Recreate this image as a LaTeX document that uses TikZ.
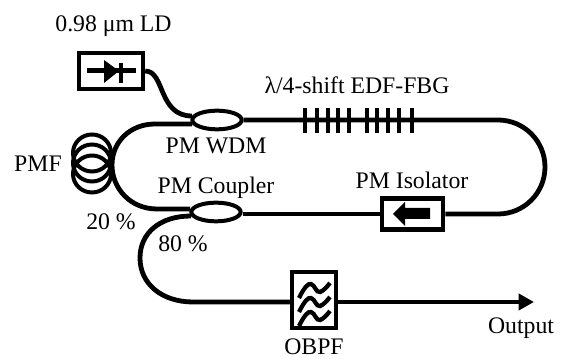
\documentclass[tikz,border=0pt]{standalone}
\usepackage{fontspec}
\setmainfont{Liberation Serif}
\usetikzlibrary{shapes.geometric,arrows.meta}
\tikzset{
  fiber/.style={line width=3.6pt},
  devbox/.style={draw, line width=3.3pt, minimum width=48pt, minimum height=27pt, inner sep=0pt, fill=white},
  couplerbox/.style={draw, ellipse, line width=3pt, minimum width=37pt, minimum height=14pt, inner sep=0pt, fill=white},
  lbl/.style={font=\fontsize{17.8}{20}\selectfont, inner sep=0pt},
  grating/.style={line width=3.4pt},
}
\begin{document}
\begin{tikzpicture}[x=0.75pt, y=-0.75pt]
  \useasboundingbox (0,0) rectangle (562,359);

  % 光纤环 PMF
  \foreach \cy in {153,163,174}
    \draw[line width=3pt] (92,\cy) ellipse [x radius=19, y radius=18.5];

  % 器件
  \node[couplerbox] (wdm) at (217,120) {};
  \node[couplerbox] (coupler) at (216,212) {};
  \node[devbox] (ld) at (111,71) {};
  \node[devbox, minimum width=46pt, minimum height=23pt] (iso) at (412.5,214) {};
  \node[devbox, minimum width=33pt, minimum height=42pt] (obpf) at (314,300) {};

  % 自由端
  \coordinate (wdmin) at (192,116);
  \coordinate (wdmloop) at (192,124);
  \coordinate (cploop) at (190,209);
  \coordinate (cpout) at (191,216);
  \coordinate (out) at (534,302);

  % 光纤
  \draw[fiber] (ld.east) .. controls (165,71) and (158,116) .. (wdmin);
  \draw[fiber] (wdmloop) -- (155,124) .. controls (130,124) and (112,142) .. (112,165)
     .. controls (112,188) and (130,209) .. (157,209) -- (cploop);
  \draw[fiber] (wdm.east) -- (498,120) .. controls (524,120) and (545,141) .. (545,167)
     .. controls (545,193) and (524,214) .. (498,214) -- (iso.east);
  \draw[fiber] (iso.west) -- (coupler.east |- iso.west);
  \draw[fiber] (cpout) .. controls (160,216) and (140,233) .. (140,258)
     .. controls (140,284) and (162,302) .. (193,302) -- (obpf.west |- out);
  \draw[fiber, -{Triangle[length=11.5pt, width=12pt]}] (obpf.east |- out) -- (out);

  % 光栅
  \foreach \gx in {305,317,328,338,349,367,377,388,399,412}
    \draw[grating] (\gx,108) -- (\gx,133);

  % LD 符号
  \draw[line width=3.3pt] (87,70.5) -- (136,70.5);
  \fill (104,60) -- (119,71) -- (104,83) -- cycle;
  \draw[line width=3.3pt] (121,63) -- (121,83);

  % 隔离器箭头
  \fill (393,214) -- (405,202) -- (405,208) -- (430,208) -- (430,219) -- (405,219) -- (405,226) -- cycle;

  % 滤波器符号
  \foreach \wy in {0,14,28}
    \draw[line width=3.2pt] (299,298+\wy) .. controls (304,288+\wy) and (308,283+\wy) .. (311,284+\wy)
       .. controls (315,285+\wy) and (316,293+\wy) .. (320,292+\wy)
       .. controls (323,291+\wy) and (326,288+\wy) .. (330,283+\wy);

  % 文字
  \node[lbl] (ldlabel) at (113.5,26) {0.98 μm LD};
  \node[lbl] (fbglabel) at (357,85) {λ/4-shift EDF-FBG};
  \node[lbl] (wdmlabel) at (216,146) {PM WDM};
  \node[lbl] (pmflabel) at (38,164) {PMF};
  \node[lbl] (cplabel) at (216,188) {PM Coupler};
  \node[lbl] (isolabel) at (412,180) {PM Isolator};
  \node[lbl] (twenty) at (111,222) {20 \%};
  \node[lbl] (eighty) at (183,244) {80 \%};
  \node[lbl] (obpflabel) at (314,347) {OBPF};
  \node[lbl] (outlabel) at (521,328) {Output};
\end{tikzpicture}
\end{document}
